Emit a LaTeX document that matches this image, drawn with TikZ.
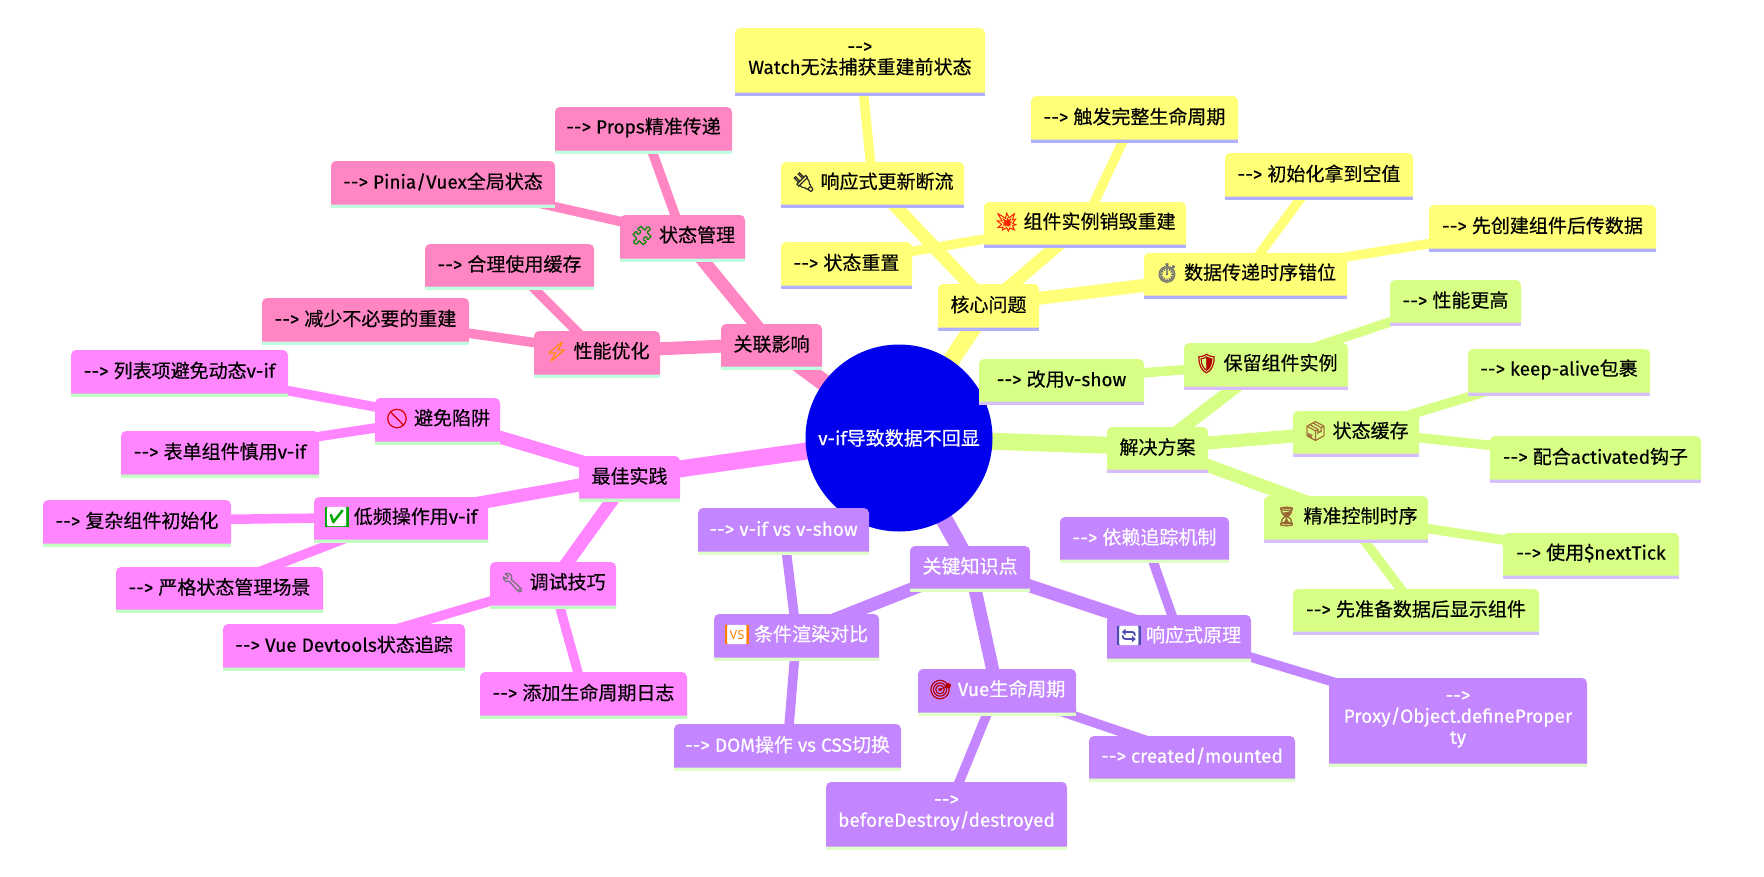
\documentclass[tikz,border=0pt]{standalone}
\usepackage{fontspec}
\newfontfamily\lat{Fira Sans}[FakeBold=0.25]
\newfontfamily\cjk{Noto Sans CJK SC}[FakeBold=0.35]
\newfontfamily\emo{Noto Emoji}[FakeBold=1.5]
\newfontfamily\emothin{Noto Emoji}
\newcommand\C[1]{{\cjk #1}}
\newcommand\A{-{}-{}>}
\newcommand\E[2]{{\emo\textcolor{#1}{#2}}}
\newcommand\Eb[2]{{\setlength{\fboxsep}{0pt}\emothin\colorbox{#1}{\textcolor{white}{#2}}}}
\definecolor{fillY}{HTML}{FFFF78}\definecolor{lineY}{HTML}{B1B0FF}
\definecolor{fillG}{HTML}{D7FF86}\definecolor{lineG}{HTML}{D7BFFF}
\definecolor{fillP}{HTML}{C386FF}\definecolor{lineP}{HTML}{E0FFC8}
\definecolor{fillM}{HTML}{FF86FF}\definecolor{lineM}{HTML}{C3FFC3}
\definecolor{fillK}{HTML}{FF86C3}\definecolor{lineK}{HTML}{BFFFDF}
\definecolor{rootblue}{HTML}{0000EC}
\pgfdeclarelayer{edgelayer}\pgfdeclarelayer{rootlayer}
\pgfsetlayers{edgelayer,rootlayer,main}
\tikzset{
  txt/.style={font=\lat\fontsize{19}{21}\selectfont,align=center,inner sep=0pt,text=black},
  txtY/.style={txt},txtG/.style={txt},txtM/.style={txt},txtK/.style={txt},
  txtP/.style={txt,text=white},
  rootnode/.style={txt,circle,fill=rootblue,minimum size=187pt,text=white},
  lone/.style={line width=17pt},
  ltwo/.style={line width=13pt},
  lthree/.style={line width=9.5pt},
}
% section, name, x0, y0, x1, y1, text
\newcommand\bx[7]{%
  \fill[line#1] (#3,#6-8) rectangle (#5,#6);
  \fill[fill#1] (#3,#6-3.5) [rounded corners=5pt] -- (#3,#4) -- (#5,#4) [sharp corners] -- (#5,#6-3.5) -- cycle;
  \node[txt#1] (#2) at ({(#3+#5)/2},{(#4+#6)/2-3}) {#7};
}
\newcommand\ed[4]{\draw[color=fill#1,#2] (#3.center) -- (#4.center);}
\begin{document}
\begin{tikzpicture}[x=1pt,y=-1pt]
\useasboundingbox (0,0) rectangle (1764,876);
\begin{pgfonlayer}{rootlayer}
\node[rootnode] (root) at (899,438) {v-if\C{导致数据不回显}};
\end{pgfonlayer}
% yellow
\bx{Y}{core}{938}{284}{1039}{331}{\C{核心问题}}
\bx{Y}{yplug}{781}{162}{964}{208}{\E{black!85}{🔌} \C{响应式更新断流}}
\bx{Y}{ywatch}{735}{28}{985}{96}{\A\\Watch\C{无法捕获重建前状态}}
\bx{Y}{yboom}{984}{202}{1186}{248}{\E{red!75!orange}{💥} \C{组件实例销毁重建}}
\bx{Y}{ytrig}{1031}{96}{1238}{143}{\A{} \C{触发完整生命周期}}
\bx{Y}{yreset}{781}{242}{912}{289}{\A{} \C{状态重置}}
\bx{Y}{ytime}{1144}{253}{1347}{299}{\E{black!55}{⏱} \C{数据传递时序错位}}
\bx{Y}{yinit}{1225}{153}{1413}{200}{\A{} \C{初始化拿到空值}}
\bx{Y}{yfirst}{1429}{205}{1656}{252}{\A{} \C{先创建组件后传数据}}
% green
\bx{G}{sol}{1107}{427}{1208}{473}{\C{解决方案}}
\bx{G}{gkeep}{1184}{343}{1348}{390}{\E{red!70!black}{🛡} \C{保留组件实例}}
\bx{G}{gshow}{979}{359}{1144}{405}{\A{} \C{改用}v-show}
\bx{G}{gperf}{1390}{280}{1521}{326}{\A{} \C{性能更高}}
\bx{G}{gcache}{1293}{411}{1419}{457}{\E{brown!85!black}{📦} \C{状态缓存}}
\bx{G}{galive}{1468}{349}{1650}{396}{\A{} keep-alive\C{包裹}}
\bx{G}{gacti}{1490}{436}{1701}{483}{\A{} \C{配合}activated\C{钩子}}
\bx{G}{gprec}{1264}{496}{1428}{543}{\E{brown!80!black}{⏳} \C{精准控制时序}}
\bx{G}{gtick}{1503}{533}{1679}{579}{\A{} \C{使用}\$nextTick}
\bx{G}{gprep}{1293}{589}{1539}{635}{\A{} \C{先准备数据后显示组件}}
% purple
\bx{P}{key}{910}{546}{1030}{592}{\C{关键知识点}}
\bx{P}{pvue}{918}{669}{1076}{716}{\E{red!70!black}{🎯} Vue\C{生命周期}}
\bx{P}{pcrea}{1089}{736}{1295}{782}{\A{} created/mounted}
\bx{P}{pbefo}{826}{782}{1067}{850}{\A\\beforeDestroy/destroyed}
\bx{P}{pcond}{714}{614}{879}{661}{\Eb{orange}{🆚} \C{条件渲染对比}}
\bx{P}{pvif}{698}{508}{869}{555}{\A{} v-if vs v-show}
\bx{P}{pdom}{674}{724}{901}{771}{\A{} DOM\C{操作} vs CSS\C{切换}}
\bx{P}{preac}{1107}{615}{1251}{662}{\Eb{blue!40!gray}{🔄} \C{响应式原理}}
\bx{P}{pdep}{1060}{517}{1229}{563}{\A{} \C{依赖追踪机制}}
\bx{P}{pprox}{1329}{678}{1587}{767}{\A\\Proxy/Object.defineProper\\ty}
% magenta
\bx{M}{best}{579}{456}{680}{502}{\C{最佳实践}}
\bx{M}{mavoid}{375}{398}{500}{445}{\E{red!85!black}{🚫} \C{避免陷阱}}
\bx{M}{mlist}{71}{350}{288}{397}{\A{} \C{列表项避免动态}v-if}
\bx{M}{mform}{121}{431}{319}{478}{\A{} \C{表单组件慎用}v-if}
\bx{M}{mlow}{314}{497}{488}{543}{\Eb{green!65!black}{✅} \C{低频操作用}v-if}
\bx{M}{mcomp}{43}{500}{231}{547}{\A{} \C{复杂组件初始化}}
\bx{M}{mstri}{116}{567}{323}{613}{\A{} \C{严格状态管理场景}}
\bx{M}{mdebug}{490}{562}{616}{609}{\E{black!55}{🔧} \C{调试技巧}}
\bx{M}{mdev}{223}{624}{465}{671}{\A{} Vue Devtools\C{状态追踪}}
\bx{M}{mlog}{480}{672}{687}{719}{\A{} \C{添加生命周期日志}}
% pink
\bx{K}{rel}{721}{324}{822}{370}{\C{关联影响}}
\bx{K}{kstate}{620}{215}{745}{262}{\E{green!55!black}{🧩} \C{状态管理}}
\bx{K}{kprop}{555}{107}{732}{154}{\A{} Props\C{精准传递}}
\bx{K}{kpinia}{331}{161}{555}{208}{\A{} Pinia/Vuex\C{全局状态}}
\bx{K}{kperf}{534}{331}{660}{378}{\E{orange!90!yellow}{⚡} \C{性能优化}}
\bx{K}{kcach}{425}{244}{594}{290}{\A{} \C{合理使用缓存}}
\bx{K}{kless}{262}{298}{469}{345}{\A{} \C{减少不必要的重建}}
\begin{pgfonlayer}{edgelayer}
\ed{Y}{lone}{root}{core}
\ed{Y}{ltwo}{core}{yplug}\ed{Y}{ltwo}{core}{yboom}\ed{Y}{ltwo}{core}{ytime}
\ed{Y}{lthree}{yplug}{ywatch}\ed{Y}{lthree}{yboom}{ytrig}\ed{Y}{lthree}{yboom}{yreset}
\ed{Y}{lthree}{ytime}{yinit}\ed{Y}{lthree}{ytime}{yfirst}
\ed{G}{lone}{root}{sol}
\ed{G}{ltwo}{sol}{gkeep}\ed{G}{ltwo}{sol}{gcache}\ed{G}{ltwo}{sol}{gprec}
\ed{G}{lthree}{gkeep}{gshow}\ed{G}{lthree}{gkeep}{gperf}\ed{G}{lthree}{gcache}{galive}
\ed{G}{lthree}{gcache}{gacti}\ed{G}{lthree}{gprec}{gtick}\ed{G}{lthree}{gprec}{gprep}
\ed{P}{lone}{root}{key}
\ed{P}{ltwo}{key}{pvue}\ed{P}{ltwo}{key}{pcond}\ed{P}{ltwo}{key}{preac}
\ed{P}{lthree}{pvue}{pcrea}\ed{P}{lthree}{pvue}{pbefo}\ed{P}{lthree}{pcond}{pvif}
\ed{P}{lthree}{pcond}{pdom}\ed{P}{lthree}{preac}{pdep}\ed{P}{lthree}{preac}{pprox}
\ed{M}{lone}{root}{best}
\ed{M}{ltwo}{best}{mavoid}\ed{M}{ltwo}{best}{mlow}\ed{M}{ltwo}{best}{mdebug}
\ed{M}{lthree}{mavoid}{mlist}\ed{M}{lthree}{mavoid}{mform}\ed{M}{lthree}{mlow}{mcomp}
\ed{M}{lthree}{mlow}{mstri}\ed{M}{lthree}{mdebug}{mdev}\ed{M}{lthree}{mdebug}{mlog}
\ed{K}{lone}{root}{rel}
\ed{K}{ltwo}{rel}{kstate}\ed{K}{ltwo}{rel}{kperf}
\ed{K}{lthree}{kstate}{kprop}\ed{K}{lthree}{kstate}{kpinia}\ed{K}{lthree}{kperf}{kcach}\ed{K}{lthree}{kperf}{kless}
\end{pgfonlayer}
\end{tikzpicture}
\end{document}
